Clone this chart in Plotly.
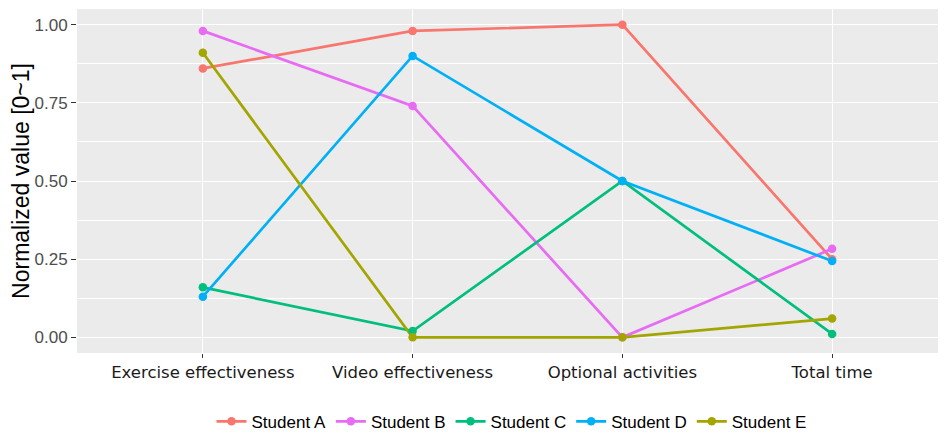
import plotly.graph_objects as go

categories = ["Exercise effectiveness", "Video effectiveness", "Optional activities", "Total time"]
students = ["Student A", "Student B", "Student C", "Student D", "Student E"]
student_a = [0.86, 0.98, 1.00, 0.25]
student_b = [0.98, 0.74, 0.00, 0.283]
student_c = [0.16, 0.02, 0.50, 0.011]
student_d = [0.13, 0.90, 0.50, 0.244]
student_e = [0.91, 0.00, 0.00, 0.06]
colors = ["#F8766D", "#E76BF3", "#00BF7D", "#00B0F6", "#A3A500"]
y_ticks = [0.0, 0.25, 0.5, 0.75, 1.0]
y_tick_labels = ["0.00", "0.25", "0.50", "0.75", "1.00"]

series = [student_a, student_b, student_c, student_d, student_e]

fig = go.Figure()
# lines first (like geom_line), then points on top (like geom_point)
for name, vals, col in zip(students, series, colors):
    fig.add_trace(go.Scatter(
        x=categories, y=vals, name=name, mode="lines", legendgroup=name,
        line=dict(color=col, width=2.7), showlegend=False,
    ))
for name, vals, col in zip(students, series, colors):
    fig.add_trace(go.Scatter(
        x=categories, y=vals, name=name, mode="markers", legendgroup=name,
        marker=dict(color=col, size=8.5), showlegend=False,
    ))
# legend entries
for name, col in zip(students, colors):
    fig.add_trace(go.Scatter(
        x=[None], y=[None], name=name, mode="lines+markers", legendgroup=name,
        line=dict(color=col, width=2.7), marker=dict(color=col, size=8.5),
    ))

fig.update_layout(
    width=946, height=434,
    margin=dict(l=69, r=8, t=1, b=89),
    paper_bgcolor="white",
    plot_bgcolor="#EBEBEB",
    font=dict(family="Liberation Sans, Arial, sans-serif"),
    showlegend=True,
    legend=dict(orientation="h", x=0.5, xanchor="center", y=-0.2, yanchor="middle",
                font=dict(size=17, color="black"), itemwidth=30,
                traceorder="normal"),
)
fig.update_xaxes(
    type="category", categoryorder="array", categoryarray=categories,
    range=[-0.6, 3.543],
    showgrid=True, gridcolor="white", gridwidth=1.2,
    zeroline=False, showline=False, automargin=False,
    ticks="outside", ticklen=4, tickcolor="#333333", tickwidth=1,
    tickfont=dict(size=16.5, color="#1A1A1A", family="DejaVu Sans"),
)
fig.update_yaxes(
    range=[-0.05, 1.05], automargin=False,
    tickvals=y_ticks, ticktext=y_tick_labels,
    showgrid=True, gridcolor="white", gridwidth=1.2,
    minor=dict(showgrid=True, gridcolor="white", gridwidth=0.6, dtick=0.125, tick0=0),
    zeroline=False, showline=False,
    ticks="outside", ticklen=5, tickcolor="#333333", tickwidth=1,
    tickfont=dict(size=17, color="#4D4D4D"),
    title=dict(text="Normalized value [0~1]", font=dict(size=23, color="black"), standoff=0),
)
fig.write_html("out.html")
